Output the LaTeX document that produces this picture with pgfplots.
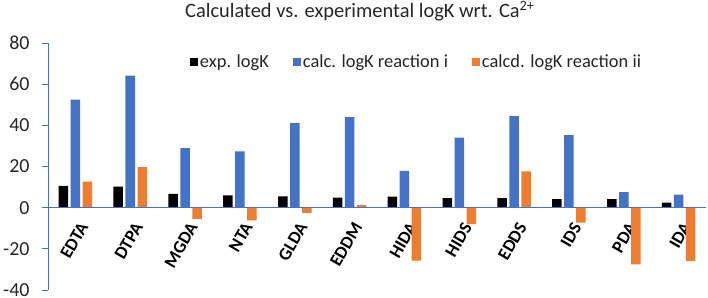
\documentclass[border=0pt]{standalone}
\usepackage{pgfplots}
\pgfplotsset{compat=1.18}
\usepackage{fontspec}
\setmainfont{Carlito}
\definecolor{cblue}{HTML}{4472C4}
\definecolor{corange}{HTML}{ED7D31}
\definecolor{axblue}{HTML}{4472C4}
\begin{document}
\begin{tikzpicture}
\begin{axis}[
  name=ax,
  scale only axis, width=658bp, height=247bp,
  ymin=-40, ymax=80, ytick={-40,-20,0,20,40,60,80},
  yticklabels={-40,-20,0,20,40,60,80},
  xmin=-0.5, xmax=11.5, xtick={0,...,11},
  xticklabels={EDTA,DTPA,MGDA,NTA,GLDA,EDDM,HIDA,HIDS,EDDS,IDS,PDA,IDA},
  axis lines=left,
  x axis line style={draw=none},
  y axis line style={draw=axblue, line width=1pt, -},
  ytick style={draw=axblue, line width=1pt},
  xtick style={draw=none},
  tick align=outside, major tick length=6bp,
  xticklabel style={yshift=75bp, xshift=10bp, rotate=60, anchor=east,
    font=\bfseries\fontsize{18}{18}\selectfont, text=black},
  yticklabel style={xshift=-9bp, font=\fontsize{20}{20}\selectfont, text=black!85},
  ybar=2.5bp, bar width=9.5bp,
  title={Calculated vs. experimental logK wrt. Ca\textsuperscript{2+}},
  title style={at={(0.474,1)}, anchor=south, yshift=12bp, font=\fontsize{20.5}{20.5}\selectfont, text=black!85},
  legend columns=3,
  legend style={at={(0.56,0.923)}, anchor=center, draw=none, fill=none,
    font=\fontsize{18.5}{18.5}\selectfont, text=black!85,
    /tikz/every even column/.append style={column sep=22bp}},
  legend image code/.code={\fill[#1] (0bp,-4bp) rectangle (8bp,4bp);},
  clip=false,
]
\addplot[fill=black, draw=none] coordinates {(0,10.6) (1,10.2) (2,6.7) (3,6.0) (4,5.5) (5,4.9) (6,5.4) (7,4.6) (8,4.6) (9,4.2) (10,4.2) (11,2.4)};
\addlegendentry{exp. logK}
\addplot[fill=cblue, draw=none] coordinates {(0,52.5) (1,64.2) (2,28.9) (3,27.3) (4,41.1) (5,44.0) (6,17.9) (7,34.0) (8,44.5) (9,35.3) (10,7.6) (11,6.3)};
\addlegendentry{calc. logK reaction i}
\addplot[fill=corange, draw=none] coordinates {(0,12.7) (1,19.7) (2,-5.5) (3,-6.2) (4,-2.5) (5,1.3) (6,-25.7) (7,-8.0) (8,17.6) (9,-7.3) (10,-27.6) (11,-25.9)};
\addlegendentry{calcd. logK reaction ii}
\draw[axblue, line width=1pt] (axis cs:-0.5,0) -- (axis cs:11.5,0);
\end{axis}
\pgfresetboundingbox
\path[use as bounding box] ([xshift=-48bp, yshift=-8bp]ax.south west) rectangle ([xshift=2bp, yshift=43bp]ax.north east);
\end{tikzpicture}
\end{document}
